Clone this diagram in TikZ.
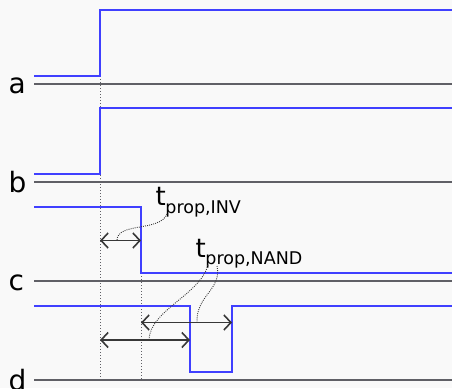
\documentclass[tikz,border=0pt]{standalone}
\usepackage{fontspec}
\setmainfont{DejaVu Sans}
\usetikzlibrary{arrows.meta}
\definecolor{bg}{HTML}{F9F9F9}
\definecolor{sig}{HTML}{4040FF}
\definecolor{axis}{HTML}{606066}
\definecolor{ink}{HTML}{383838}
\begin{document}
\begin{tikzpicture}[x=1pt,y=-1pt,
  axisline/.style={draw=axis,line width=2.2pt},
  signal/.style={draw=sig,line width=1.8pt},
  guide/.style={draw=axis,line width=1pt,dash pattern=on 1pt off 2pt},
  span/.style={draw=ink,line width=1.6pt,{Straight Barb[length=7pt,width=15pt]}-{Straight Barb[length=7pt,width=15pt]}},
  leader/.style={draw=ink,line width=0.9pt,dash pattern=on 0.9pt off 1.2pt},
  siglabel/.style={anchor=base west,inner sep=0pt,font=\fontsize{28}{28}\selectfont},
  tlabel/.style={anchor=base west,inner sep=0pt}]
\fill[bg] (0,0) rectangle (452,388);
\useasboundingbox (0,0) rectangle (452,388);
% signal names
\node[siglabel] (la) at (8.5,93) {a};
\node[siglabel] (lb) at (8.5,192) {b};
\node[siglabel] (lc) at (8.5,290) {c};
\node[siglabel] (ld) at (8.5,390) {d};
% axes
\coordinate (a0) at (34,84);  \coordinate (a1) at (452,84);
\coordinate (b0) at (34,182); \coordinate (b1) at (452,182);
\coordinate (c0) at (34,281); \coordinate (c1) at (452,281);
\coordinate (d0) at (34,380); \coordinate (d1) at (452,380);
\draw[axisline] (a0) -- (a1);
\draw[axisline] (b0) -- (b1);
\draw[axisline] (c0) -- (c1);
\draw[axisline] (d0) -- (d1);
% guides
\coordinate (g1t) at (100,76);  \coordinate (g1b) at (100,380);
\coordinate (g2t) at (141,207); \coordinate (g2b) at (141,380);
\draw[guide] (g1t) -- (g1b);
\draw[guide] (g2t) -- (g2b);
% signals
\draw[signal] (34,76) -- (100,76) -- (100,10) -- (452,10);
\draw[signal] (34,174) -- (100,174) -- (100,108) -- (452,108);
\draw[signal] (34,207) -- (141,207) -- (141,273) -- (452,273);
\draw[signal] (34,306) -- (190,306) -- (190,372) -- (232,372) -- (232,306) -- (452,306);
% spans
\coordinate (i0) at (100,240.5); \coordinate (i1) at (141,240.5);
\coordinate (n0) at (100,340);   \coordinate (n1) at (190,340);
\coordinate (m0) at (141,322.5); \coordinate (m1) at (232,322.5);
\draw[span] (i0) -- (i1);
\draw[span] (n0) -- (n1);
\draw[span] (m0) -- (m1);
% labels
\node[tlabel] (tinv) at (155.5,205) {\fontsize{26}{26}\selectfont t\kern-0.5pt\raisebox{-8pt}{\fontsize{17.5}{17.5}\selectfont prop,INV}};
\node[tlabel] (tnand) at (195.5,257) {\fontsize{26}{26}\selectfont t\kern-0.5pt\raisebox{-7pt}{\fontsize{17.5}{17.5}\selectfont prop,NAND}};
% leaders
\coordinate (li) at (167,214);
\coordinate (lia) at (117,240.5);
\coordinate (ln1) at (208,265);
\coordinate (ln1a) at (149,340);
\coordinate (ln2) at (217,266);
\coordinate (ln2a) at (197,322.5);
\draw[leader] (li) .. controls (160,232) and (117,222) .. (lia);
\draw[leader] (ln1) .. controls (200,295) and (150,310) .. (ln1a);
\draw[leader] (ln2) .. controls (222,290) and (196,295) .. (ln2a);
\end{tikzpicture}
\end{document}
